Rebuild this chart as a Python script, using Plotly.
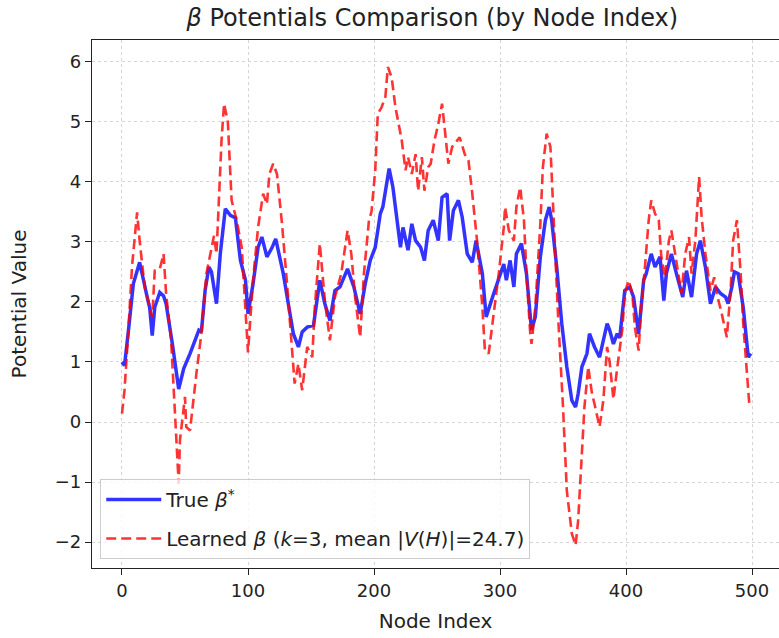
import plotly.graph_objects as go

true_nodes = [0, 2, 5, 9, 14, 17, 20, 22, 24, 26, 30, 33, 35, 40, 45, 49, 54, 61, 63, 66, 69, 71, 75, 78, 82, 86, 90, 94, 98, 100, 104, 108, 111, 115, 119, 122, 126, 128, 132, 136, 140, 143, 147, 152, 157, 161, 165, 169, 173, 179, 184, 189, 193, 197, 201, 205, 207, 210, 212, 215, 218, 221, 223, 227, 230, 233, 237, 240, 243, 247, 251, 254, 258, 260, 263, 267, 270, 274, 278, 281, 286, 289, 295, 300, 303, 305, 308, 311, 313, 317, 321, 325, 328, 332, 336, 339, 341, 345, 349, 353, 357, 360, 362, 365, 369, 371, 375, 379, 382, 385, 387, 390, 393, 395, 399, 403, 406, 410, 414, 416, 420, 423, 427, 430, 432, 436, 440, 443, 445, 448, 452, 456, 459, 463, 467, 471, 475, 479, 481, 484, 486, 489, 493, 497, 499]
true_vals = [1.0, 0.94, 1.5, 2.3, 2.66, 2.4, 2.08, 1.9, 1.44, 1.91, 2.16, 2.1, 1.97, 1.3, 0.55, 0.89, 1.14, 1.53, 1.5, 2.2, 2.58, 2.5, 1.97, 2.8, 3.55, 3.44, 3.4, 2.69, 2.36, 1.8, 2.3, 2.91, 3.08, 2.75, 2.9, 3.05, 2.63, 2.47, 1.97, 1.47, 1.25, 1.5, 1.58, 1.61, 2.36, 1.97, 1.69, 2.19, 2.25, 2.55, 2.25, 1.8, 2.3, 2.69, 2.91, 3.47, 3.58, 4.02, 4.22, 3.91, 3.36, 2.91, 3.24, 2.86, 3.3, 3.02, 2.91, 2.69, 3.19, 3.36, 3.02, 3.74, 3.8, 3.02, 3.52, 3.69, 3.41, 2.8, 2.66, 3.02, 2.47, 1.75, 2.14, 2.47, 2.63, 2.36, 2.69, 2.25, 2.8, 2.97, 2.47, 1.53, 1.75, 2.75, 3.36, 3.58, 3.36, 2.58, 1.64, 0.92, 0.36, 0.25, 0.47, 0.92, 1.14, 1.47, 1.25, 1.08, 1.36, 1.64, 1.53, 1.3, 1.47, 1.4, 2.19, 2.25, 2.08, 1.47, 2.36, 2.47, 2.8, 2.58, 2.75, 2.02, 2.47, 2.8, 2.47, 2.25, 2.08, 2.52, 2.08, 2.8, 3.02, 2.58, 1.97, 2.25, 2.14, 2.08, 1.97, 2.25, 2.5, 2.47, 1.91, 1.08, 1.14]

learned_nodes = [0, 2, 5, 8, 12, 14, 18, 24, 26, 30, 33, 35, 39, 45, 46, 50, 51, 54, 59, 63, 67, 73, 75, 79, 81, 84, 87, 91, 95, 98, 100, 104, 108, 112, 115, 117, 120, 123, 127, 131, 135, 137, 140, 143, 147, 151, 153, 157, 161, 165, 169, 174, 179, 182, 185, 189, 192, 196, 198, 201, 203, 206, 209, 211, 214, 217, 219, 222, 225, 227, 230, 233, 235, 238, 240, 243, 245, 248, 251, 254, 256, 259, 262, 266, 268, 272, 275, 278, 282, 286, 288, 291, 295, 299, 303, 304, 307, 311, 313, 316, 319, 321, 324, 325, 328, 332, 334, 337, 340, 342, 346, 350, 353, 357, 360, 362, 365, 367, 370, 373, 375, 379, 382, 385, 387, 390, 393, 397, 399, 402, 405, 407, 410, 412, 415, 418, 420, 423, 426, 428, 431, 434, 436, 439, 442, 444, 447, 450, 452, 455, 458, 460, 463, 467, 470, 472, 476, 480, 483, 485, 488, 491, 493, 496, 498]
learned_vals = [0.14, 0.53, 1.5, 2.6, 3.49, 3.02, 2.25, 1.75, 2.52, 2.55, 2.8, 2.14, 1.36, -1.03, -0.3, 0.42, -0.08, -0.14, 0.8, 1.47, 2.47, 3.1, 2.8, 4.69, 5.3, 5.0, 3.69, 3.36, 2.91, 1.8, 1.16, 2.36, 3.24, 3.8, 3.63, 4.13, 4.3, 4.13, 3.3, 2.3, 1.08, 0.64, 0.97, 0.53, 1.25, 1.08, 1.91, 2.97, 2.02, 1.36, 2.08, 2.47, 3.19, 2.8, 2.08, 1.41, 2.47, 3.36, 3.5, 4.2, 5.13, 5.24, 5.41, 5.91, 5.74, 5.24, 5.02, 4.69, 4.19, 4.41, 4.13, 4.46, 3.85, 4.41, 3.85, 4.24, 4.3, 4.69, 4.96, 5.3, 4.91, 4.3, 4.58, 4.69, 4.74, 4.46, 4.35, 3.8, 2.97, 1.91, 1.19, 1.14, 1.8, 2.47, 3.24, 3.58, 3.19, 3.02, 3.58, 3.91, 3.36, 2.47, 1.47, 1.3, 1.91, 3.3, 4.24, 4.8, 4.58, 3.58, 1.8, 0.25, -1.14, -1.86, -2.05, -1.64, -0.58, 0.25, 0.92, 0.47, 0.3, -0.08, 0.36, 1.25, 1.0, 0.38, 0.9, 1.53, 2.14, 2.36, 2.14, 1.58, 1.19, 1.91, 2.58, 3.36, 3.69, 3.47, 3.36, 2.75, 2.41, 3.02, 3.19, 2.8, 2.47, 2.14, 2.8, 3.08, 2.47, 3.02, 4.08, 3.41, 2.8, 2.19, 2.41, 2.14, 1.8, 1.41, 2.19, 3.02, 3.36, 2.47, 1.64, 0.8, 0.25]

x_ticks = [0, 100, 200, 300, 400, 500]
y_ticks = [-2, -1, 0, 1, 2, 3, 4, 5, 6]

FONT = "DejaVu Sans"

fig = go.Figure()
fig.add_trace(go.Scatter(
    x=true_nodes, y=true_vals, mode="lines",
    name="True <i>β</i><sup>*</sup>", legendgroup="true",
    line=dict(color="rgba(0,0,255,0.8)", width=3.5),
))
fig.add_trace(go.Scatter(
    x=learned_nodes, y=learned_vals, mode="lines",
    name="Learned <i>β</i> (<i>k</i>=3, mean |<i>V</i>(<i>H</i>)|=24.7)",
    legendgroup="learned",
    line=dict(color="rgba(255,0,0,0.8)", width=2.6, dash="10px,5px"),
))

fig.update_layout(
    width=779, height=638,
    margin=dict(l=92, r=0, t=40, b=70),
    paper_bgcolor="white", plot_bgcolor="white",
    font=dict(family=FONT, size=18, color="#222"),
    title=dict(text="<i>β</i> Potentials Comparison (by Node Index)",
               x=0.555, xanchor="center", y=0.972, yanchor="middle",
               font=dict(size=24, color="#222")),
    showlegend=True,
    legend=dict(x=0.012, y=0.017, xanchor="left", yanchor="bottom",
                bgcolor="rgba(255,255,255,0.8)", bordercolor="#cccccc",
                borderwidth=1, font=dict(size=20, color="#222"),
                traceorder="grouped", tracegroupgap=10, itemwidth=55),
)
fig.update_xaxes(
    range=[-23.8, 521.4], tickvals=x_ticks, ticktext=[str(v) for v in x_ticks],
    showgrid=True, gridcolor="#d5d5d5", griddash="dot", gridwidth=1,
    showline=True, linecolor="#222", linewidth=1.2, mirror=True,
    ticks="outside", ticklen=6, tickcolor="#222", zeroline=False,
    tickfont=dict(size=18),
    title=dict(text="Node Index", font=dict(size=20), standoff=14),
)
fig.update_yaxes(
    range=[-2.43, 6.36], tickvals=y_ticks,
    ticktext=[("−" + str(-v)) if v < 0 else str(v) for v in y_ticks],
    showgrid=True, gridcolor="#d5d5d5", griddash="dot", gridwidth=1,
    showline=True, linecolor="#222", linewidth=1.2, mirror=False,
    ticks="outside", ticklen=6, tickcolor="#222", zeroline=False,
    tickfont=dict(size=18),
    title=dict(text="Potential Value", font=dict(size=20), standoff=22),
)

fig.write_html("out.html")
